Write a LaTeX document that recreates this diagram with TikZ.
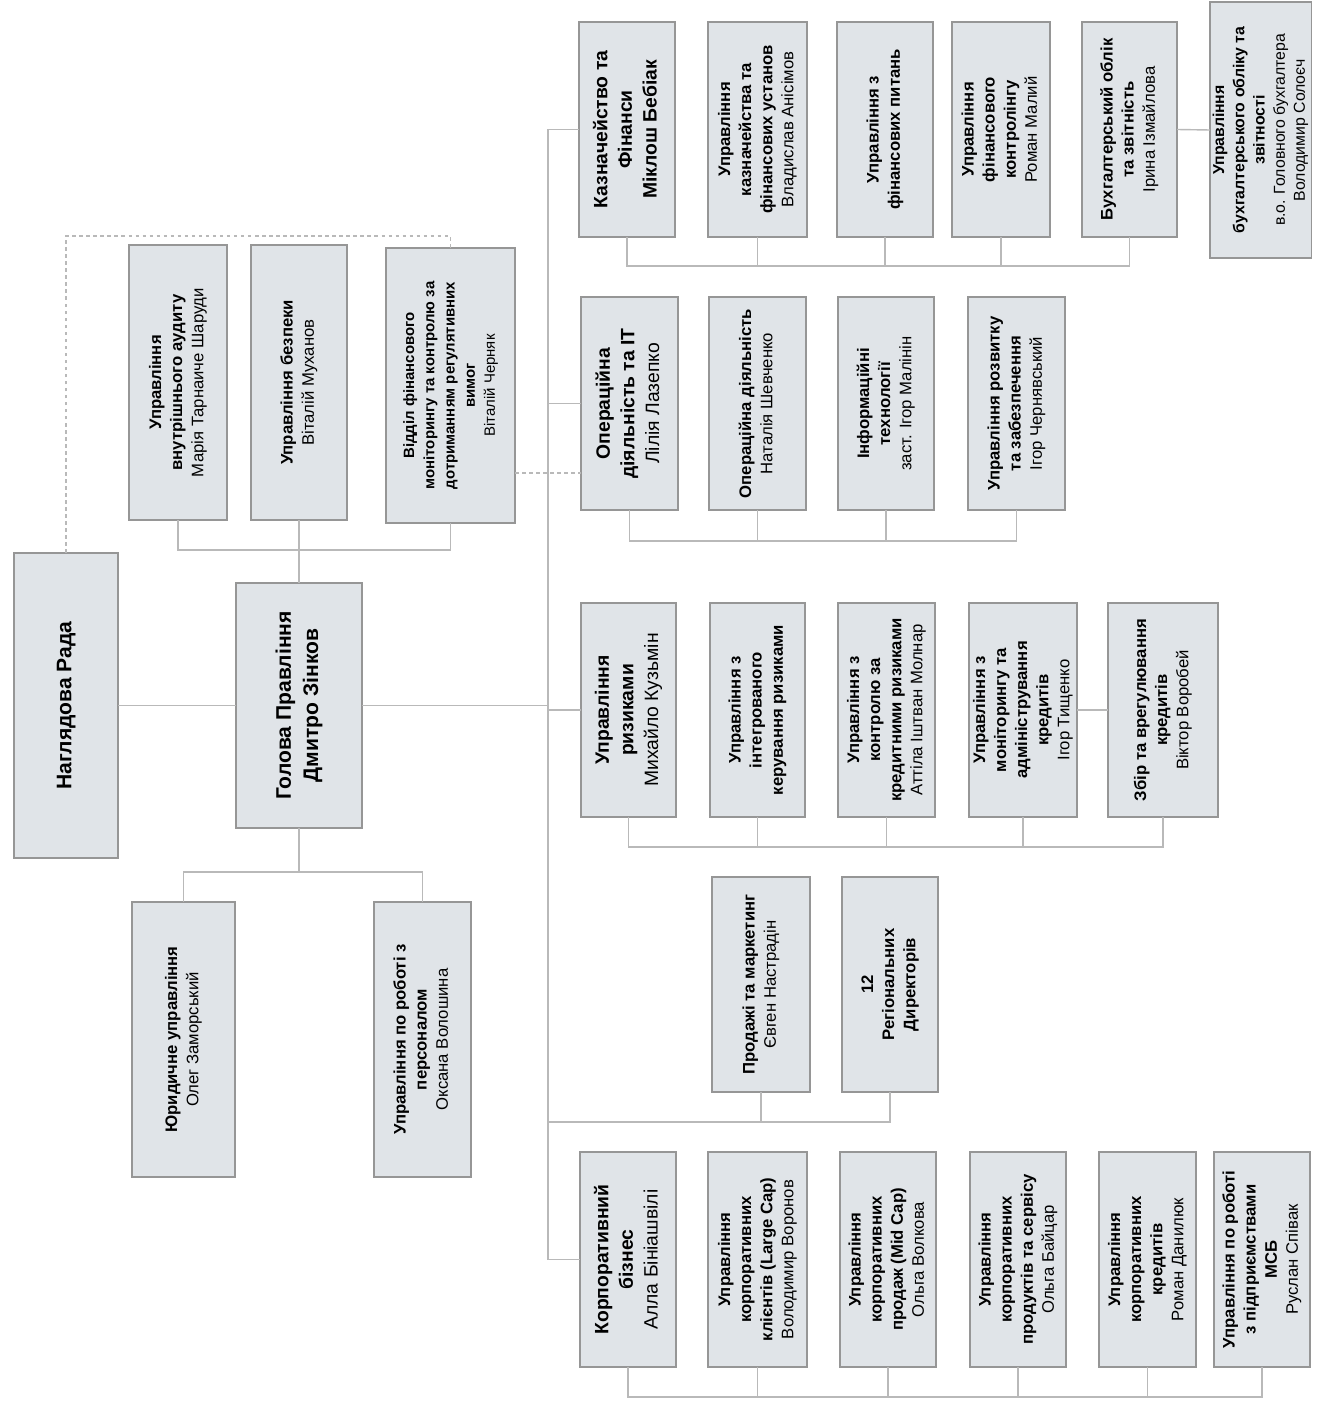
\documentclass[tikz,border=0pt]{standalone}
\usepackage{fontspec}
\setmainfont{Liberation Sans}
\usepackage{graphicx}
\usepackage{tikz}
\usetikzlibrary{calc}

\definecolor{boxfill}{RGB}{224,228,232}
\definecolor{boxline}{RGB}{150,150,150}
\definecolor{linkgray}{RGB}{185,185,185}
\newcommand{\vlines}[1]{\rotatebox{90}{\begin{tabular}{@{}c@{}}#1\end{tabular}}}

\begin{document}
\begin{tikzpicture}[x=0.02cm,y=-0.02cm,
  unit/.style={draw=boxline,line width=0.6pt,fill=boxfill,inner sep=0pt,outer sep=0pt,font=\fontsize{9.5}{12}\selectfont},
  boxsize/.style 2 args={minimum width=#1*0.02cm,minimum height=#2*0.02cm},
  head/.style={font=\fontsize{11}{14}\selectfont},
  big/.style={font=\fontsize{12}{15.5}\selectfont},
  tight/.style={font=\fontsize{8.5}{11.5}\selectfont},
  link/.style={draw=linkgray,line width=0.8pt},
  dotlink/.style={link,dash pattern=on 2pt off 2pt}]
  \useasboundingbox (0,0) rectangle (1316,1405);

  % board and chairman
  \node[unit,big,boxsize={104}{305}] (rada) at (66,705.5) {\vlines{\textbf{Наглядова Рада}}};
  \node[unit,big,boxsize={126}{245}] (holova) at (299,705.5) {\vlines{\textbf{Голова Правління}\\\textbf{Дмитро Зінков}}};
  \node[unit,boxsize={98}{275}] (audyt) at (178,382.5) {\vlines{\textbf{Управління}\\\textbf{внутрішнього аудиту}\\Марія Тарнаиче Шаруди}};
  \node[unit,boxsize={96}{275}] (bezpeka) at (299,382.5) {\vlines{\textbf{Управління безпеки}\\Віталій Муханов}};
  \node[unit,tight,boxsize={129}{275}] (monitor) at (450.5,385.5) {\vlines{\textbf{Відділ фінансового}\\\textbf{моніторингу та контролю за}\\\textbf{дотриманням регулятивних}\\\textbf{вимог}\\Віталій Черняк}};
  \node[unit,boxsize={103}{275}] (yuryd) at (183.5,1039.5) {\vlines{\textbf{Юридичне управління}\\Олег Заморський}};
  \node[unit,boxsize={97}{275}] (personal) at (422.5,1039.5) {\vlines{\textbf{Управління по роботі з}\\\textbf{персоналом}\\Оксана Волошина}};

  % finance
  \node[unit,head,boxsize={96}{215}] (kazn) at (627,129.5) {\vlines{\textbf{Казначейство та}\\\textbf{Фінанси}\\\textbf{Міклош Бебіак}}};
  \node[unit,boxsize={99}{215}] (ukazn) at (757.5,129.5) {\vlines{\textbf{Управління}\\\textbf{казначейства та}\\\textbf{фінансових установ}\\Владислав Анісімов}};
  \node[unit,boxsize={96}{215}] (finpyt) at (885,129.5) {\vlines{\textbf{Управління з}\\\textbf{фінансових питань}}};
  \node[unit,boxsize={98}{215}] (kontr) at (1001,129.5) {\vlines{\textbf{Управління}\\\textbf{фінансового}\\\textbf{контролінгу}\\Роман Малий}};
  \node[unit,boxsize={95}{215}] (buh) at (1129.5,129.5) {\vlines{\textbf{Бухгалтерський облік}\\\textbf{та звітність}\\Ірина Ізмайлова}};
  \node[unit,font=\fontsize{9}{11.5}\selectfont,boxsize={99}{256}] (ubuh) at (1260.5,130) {\vlines{\textbf{Управління}\\\textbf{бухгалтерського обліку та}\\\textbf{звітності}\\в.о. Головного бухгалтера\\Володимир Солоєч}};

  % operations
  \node[unit,head,boxsize={97}{213}] (oper) at (629.5,403.5) {\vlines{\textbf{Операційна}\\\textbf{діяльність та ІТ}\\Лілія Лазепко}};
  \node[unit,boxsize={97}{213}] (operd) at (757.5,403.5) {\vlines{\textbf{Операційна діяльність}\\Наталія Шевченко}};
  \node[unit,boxsize={96}{213}] (it) at (886,403.5) {\vlines{\textbf{Інформаційні}\\\textbf{технології}\\заст. Ігор Малінін}};
  \node[unit,boxsize={97}{213}] (rozv) at (1016.5,403.5) {\vlines{\textbf{Управління розвитку}\\\textbf{та забезпечення}\\Ігор Чернявський}};

  % risks
  \node[unit,head,boxsize={95}{214}] (ryz) at (628.5,710) {\vlines{\textbf{Управління}\\\textbf{ризиками}\\Михайло Кузьмін}};
  \node[unit,boxsize={95}{214}] (integ) at (757.5,710) {\vlines{\textbf{Управління з}\\\textbf{інтегрованого}\\\textbf{керування ризиками}}};
  \node[unit,boxsize={97}{214}] (kredr) at (886.5,710) {\vlines{\textbf{Управління з}\\\textbf{контролю за}\\\textbf{кредитними ризиками}\\Аттіла Іштван Молнар}};
  \node[unit,boxsize={108}{214}] (monit) at (1023,710) {\vlines{\textbf{Управління з}\\\textbf{моніторингу та}\\\textbf{адміністрування}\\\textbf{кредитів}\\Ігор Тищенко}};
  \node[unit,boxsize={110}{214}] (zbir) at (1163,710) {\vlines{\textbf{Збір та врегулювання}\\\textbf{кредитів}\\Віктор Воробей}};

  % sales
  \node[unit,boxsize={98}{215}] (prod) at (761,984.5) {\vlines{\textbf{Продажі та маркетинг}\\Євген Настрадін}};
  \node[unit,boxsize={96}{215}] (reg) at (890,984.5) {\vlines{\textbf{12}\\\textbf{Регіональних}\\\textbf{Директорів}}};

  % corporate business
  \node[unit,head,boxsize={96}{215}] (korp) at (628,1259.5) {\vlines{\textbf{Корпоративний}\\\textbf{бізнес}\\Алла Бініашвілі}};
  \node[unit,boxsize={99}{215}] (large) at (757.5,1259.5) {\vlines{\textbf{Управління}\\\textbf{корпоративних}\\\textbf{клієнтів (Large Cap)}\\Володимир Воронов}};
  \node[unit,boxsize={96}{215}] (mid) at (888,1259.5) {\vlines{\textbf{Управління}\\\textbf{корпоративних}\\\textbf{продаж (Mid Cap)}\\Ольга Волкова}};
  \node[unit,boxsize={96}{215}] (prodk) at (1018,1259.5) {\vlines{\textbf{Управління}\\\textbf{корпоративних}\\\textbf{продуктів та сервісу}\\Ольга Байцар}};
  \node[unit,boxsize={97}{215}] (kred) at (1147.5,1259.5) {\vlines{\textbf{Управління}\\\textbf{корпоративних}\\\textbf{кредитів}\\Роман Данилюк}};
  \node[unit,boxsize={96}{215}] (msb) at (1262,1259.5) {\vlines{\textbf{Управління по роботі}\\\textbf{з підприємствами}\\\textbf{МСБ}\\Руслан Співак}};

  % bus levels
  \coordinate (sp) at (548,0);
  \coordinate (tbus) at (0,550);
  \coordinate (pbus) at (0,872);
  \coordinate (fbus) at (0,266);
  \coordinate (obus) at (0,541);
  \coordinate (rbus) at (0,847);
  \coordinate (sbus) at (548,1122);
  \coordinate (kbus) at (0,1397);
  \coordinate (dtop) at (0,236);
  \coordinate (dmid) at (0,473);

  % left side links
  \draw[link] (rada.east) -- (holova.west);
  \draw[link] (audyt.south) |- (monitor.south |- tbus) -- (monitor.south);
  \draw[link] (bezpeka.south) -- (holova.north);
  \draw[link] (yuryd.north) |- (personal.north |- pbus) -- (personal.north);
  \draw[link] (holova.south) -- (holova.south |- pbus);
  \draw[dotlink] (rada.north) |- (monitor.north |- dtop) -- (monitor.north);
  \draw[dotlink] (monitor.east |- dmid) -- (oper.west |- dmid);

  % spine
  \draw[link] (kazn.west) -- (kazn.west -| sp) -- (korp.west -| sp) -- (korp.west);
  \draw[link] (holova.east) -- (holova.east -| sp);
  \draw[link] (oper.west) -- (oper.west -| sp);
  \draw[link] (ryz.west) -- (ryz.west -| sp);

  % finance links
  \draw[link] (kazn.south) |- (buh.south |- fbus) -- (buh.south);
  \draw[link] (ukazn.south) -- (ukazn.south |- fbus);
  \draw[link] (finpyt.south) -- (finpyt.south |- fbus);
  \draw[link] (kontr.south) -- (kontr.south |- fbus);
  \draw[link] (buh.east) -- (ubuh.west);

  % operations links
  \draw[link] (oper.south) |- (rozv.south |- obus) -- (rozv.south);
  \draw[link] (operd.south) -- (operd.south |- obus);
  \draw[link] (it.south) -- (it.south |- obus);

  % risk links
  \draw[link] (ryz.south) |- (zbir.south |- rbus) -- (zbir.south);
  \draw[link] (integ.south) -- (integ.south |- rbus);
  \draw[link] (kredr.south) -- (kredr.south |- rbus);
  \draw[link] (monit.south) -- (monit.south |- rbus);
  \draw[link] (monit.east) -- (zbir.west);

  % sales links
  \draw[link] (sbus) -| (reg.south);
  \draw[link] (prod.south) -- (prod.south |- sbus);

  % corporate links
  \draw[link] (korp.south) |- (msb.south |- kbus) -- (msb.south);
  \draw[link] (large.south) -- (large.south |- kbus);
  \draw[link] (mid.south) -- (mid.south |- kbus);
  \draw[link] (prodk.south) -- (prodk.south |- kbus);
  \draw[link] (kred.south) -- (kred.south |- kbus);
\end{tikzpicture}
\end{document}
